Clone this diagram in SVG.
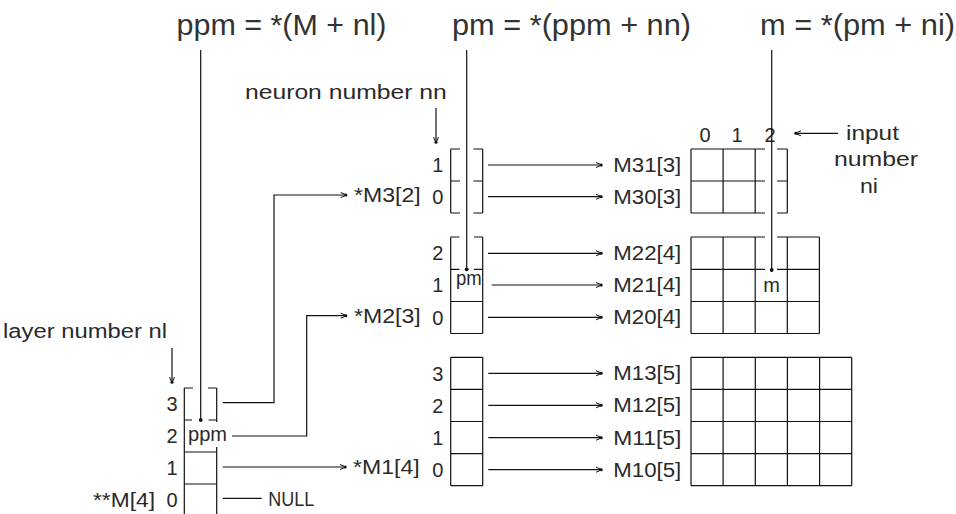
<svg xmlns="http://www.w3.org/2000/svg" width="956" height="514" viewBox="0 0 956 514">
<style>
.ln{stroke:#111;stroke-width:1.2;fill:none}
.t{font-family:"Liberation Sans",Arial,sans-serif;font-size:20px;fill:#2a2a2a}
.f{font-family:"Liberation Sans",Arial,sans-serif;font-size:30px;fill:#333}
.c{text-anchor:middle}
.dot{fill:#111}
</style>
<defs>
<marker id="ah" viewBox="-8 -4 10 8" refX="0" refY="0" markerWidth="10" markerHeight="8" markerUnits="userSpaceOnUse" orient="auto">
<path d="M-6,-2.5 L0,0 L-6,2.5" fill="none" stroke="#111" stroke-width="1"/>
<circle cx="-0.8" cy="0" r="1.5" fill="#111"/>
</marker>
</defs>
<rect width="956" height="514" fill="#fff"/>

<g id="formulas">
<text class="f" x="176.5" y="35" textLength="210" lengthAdjust="spacingAndGlyphs">ppm = *(M + nl)</text>
<text class="f" x="452" y="35" textLength="239" lengthAdjust="spacingAndGlyphs">pm = *(ppm + nn)</text>
<text class="f" x="760" y="35" textLength="195" lengthAdjust="spacingAndGlyphs">m = *(pm + ni)</text>
</g>

<g id="layer-array">
<text class="t" x="3" y="338" textLength="164" lengthAdjust="spacingAndGlyphs">layer number nl</text>
<path class="ln" d="M184.3,388V514 M216.7,388V422 M216.7,447V514 M184.3,388H193 M208,388H216.7 M184.3,420H192 M208.5,420H216.7 M184.3,452H216.7 M184.3,484H216.7"/>
<text class="t" x="188" y="441" textLength="39" lengthAdjust="spacingAndGlyphs">ppm</text>
<text class="t c" x="172" y="411">3</text>
<text class="t c" x="172" y="443">2</text>
<text class="t c" x="172" y="475">1</text>
<text class="t c" x="172" y="507">0</text>
<text class="t" x="93" y="507" textLength="62" lengthAdjust="spacingAndGlyphs">**M[4]</text>
<text class="t" x="268.3" y="506" textLength="46" lengthAdjust="spacingAndGlyphs">NULL</text>
</g>

<g id="layer-labels">
<text class="t" x="354" y="202" textLength="66.7" lengthAdjust="spacingAndGlyphs">*M3[2]</text>
<text class="t" x="354" y="322.7" textLength="66.7" lengthAdjust="spacingAndGlyphs">*M2[3]</text>
<text class="t" x="353" y="474" textLength="66.7" lengthAdjust="spacingAndGlyphs">*M1[4]</text>
</g>

<g id="neuron-array-3">
<text class="t" x="245" y="99" textLength="201.7" lengthAdjust="spacingAndGlyphs">neuron number nn</text>
<path class="ln" d="M450.7,149V213 M482.7,149V213 M450.7,149H460 M473.5,149H482.7 M450.7,181H460 M473.5,181H482.7 M450.7,213H460 M473.5,213H482.7"/>
<text class="t c" x="437.7" y="172">1</text>
<text class="t c" x="437.7" y="204">0</text>
</g>

<g id="neuron-array-2">
<path class="ln" d="M450.7,237V333.5 M482.7,237V333.5 M450.7,237H459.5 M474,237H482.7 M450.7,269.3H459.5 M474,269.3H482.7 M450.7,301.5H482.7 M450.7,333.5H482.7"/>
<text class="t" x="456" y="285" textLength="25.7" lengthAdjust="spacingAndGlyphs">pm</text>
<text class="t c" x="437.7" y="260">2</text>
<text class="t c" x="437.7" y="292">1</text>
<text class="t c" x="437.7" y="324.5">0</text>
</g>

<g id="neuron-array-1">
<path class="ln" d="M450.7,357.3V485.7 M482.7,357.3V485.7 M450.7,357.3H482.7 M450.7,389.4H482.7 M450.7,421.5H482.7 M450.7,453.6H482.7 M450.7,485.7H482.7"/>
<text class="t c" x="437.7" y="380.5">3</text>
<text class="t c" x="437.7" y="412.5">2</text>
<text class="t c" x="437.7" y="444.5">1</text>
<text class="t c" x="437.7" y="476.7">0</text>
</g>

<g id="matrix-labels">
<text class="t" x="613.3" y="172" textLength="68" lengthAdjust="spacingAndGlyphs">M31[3]</text>
<text class="t" x="613.3" y="203.7" textLength="68" lengthAdjust="spacingAndGlyphs">M30[3]</text>
<text class="t" x="613.3" y="260.3" textLength="68" lengthAdjust="spacingAndGlyphs">M22[4]</text>
<text class="t" x="613.3" y="292" textLength="68" lengthAdjust="spacingAndGlyphs">M21[4]</text>
<text class="t" x="613.3" y="324.3" textLength="68" lengthAdjust="spacingAndGlyphs">M20[4]</text>
<text class="t" x="613.3" y="380.3" textLength="68" lengthAdjust="spacingAndGlyphs">M13[5]</text>
<text class="t" x="613.3" y="412.3" textLength="68" lengthAdjust="spacingAndGlyphs">M12[5]</text>
<text class="t" x="613.3" y="444.7" textLength="68" lengthAdjust="spacingAndGlyphs">M11[5]</text>
<text class="t" x="613.3" y="476.7" textLength="68" lengthAdjust="spacingAndGlyphs">M10[5]</text>
</g>

<g id="matrix-3">
<text class="t c" x="705" y="142">0</text>
<text class="t c" x="737" y="142">1</text>
<text class="t c" x="770" y="142">2</text>
<text class="t" x="846" y="139.5" textLength="53" lengthAdjust="spacingAndGlyphs">input</text>
<text class="t" x="834" y="166" textLength="84" lengthAdjust="spacingAndGlyphs">number</text>
<text class="t" x="860" y="193" textLength="18" lengthAdjust="spacingAndGlyphs">ni</text>
<path class="ln" d="M691,149V213 M723.1,149V213 M755.2,149V213 M787.3,149V213 M691,149H765 M777,149H787.3 M691,181H765 M777,181H787.3 M691,213H765 M777,213H787.3"/>
</g>

<g id="matrix-2">
<path class="ln" d="M691,237V333.5 M723.1,237V333.5 M755.2,237V333.5 M787.3,237V333.5 M819.4,237V333.5 M691,237H765 M777,237H819.4 M691,269.3H765 M777,269.3H819.4 M691,301.5H819.4 M691,333.5H819.4"/>
<text class="t c" x="771.7" y="292">m</text>
</g>

<g id="matrix-1">
<path class="ln" d="M691,357.3V485.7 M723.1,357.3V485.7 M755.3,357.3V485.7 M787.4,357.3V485.7 M819.6,357.3V485.7 M851.7,357.3V485.7 M691,357.3H851.7 M691,389.4H851.7 M691,421.5H851.7 M691,453.6H851.7 M691,485.7H851.7"/>
</g>

<g id="connectors">
<path class="ln" d="M200.7,50V420"/>
<circle class="dot" cx="200.7" cy="420" r="1.9"/>
<path class="ln" d="M466.7,50V269.3"/>
<circle class="dot" cx="466.7" cy="269.3" r="1.9"/>
<path class="ln" d="M771.7,50V270"/>
<circle class="dot" cx="771.7" cy="270" r="1.9"/>
<path class="ln" d="M172,348V383" marker-end="url(#ah)"/>
<path class="ln" d="M436,108V143" marker-end="url(#ah)"/>
<path class="ln" d="M838,133.3H795" marker-end="url(#ah)"/>
<path class="ln" d="M222.7,402.7H274V195H346.7" marker-end="url(#ah)"/>
<path class="ln" d="M232,436H306.7V315.7H346.7" marker-end="url(#ah)"/>
<path class="ln" d="M222.7,467H346" marker-end="url(#ah)"/>
<path class="ln" d="M222.7,498.3H261.7"/>
<path class="ln" d="M488,165H602" marker-end="url(#ah)"/>
<path class="ln" d="M488,196.7H602" marker-end="url(#ah)"/>
<path class="ln" d="M488,253.3H602" marker-end="url(#ah)"/>
<path class="ln" d="M491.7,285H602" marker-end="url(#ah)"/>
<path class="ln" d="M488,317.3H602" marker-end="url(#ah)"/>
<path class="ln" d="M488.3,373.3H602" marker-end="url(#ah)"/>
<path class="ln" d="M488.3,405.3H602" marker-end="url(#ah)"/>
<path class="ln" d="M488.3,437.7H602" marker-end="url(#ah)"/>
<path class="ln" d="M488.3,469.7H602" marker-end="url(#ah)"/>
</g>
</svg>
